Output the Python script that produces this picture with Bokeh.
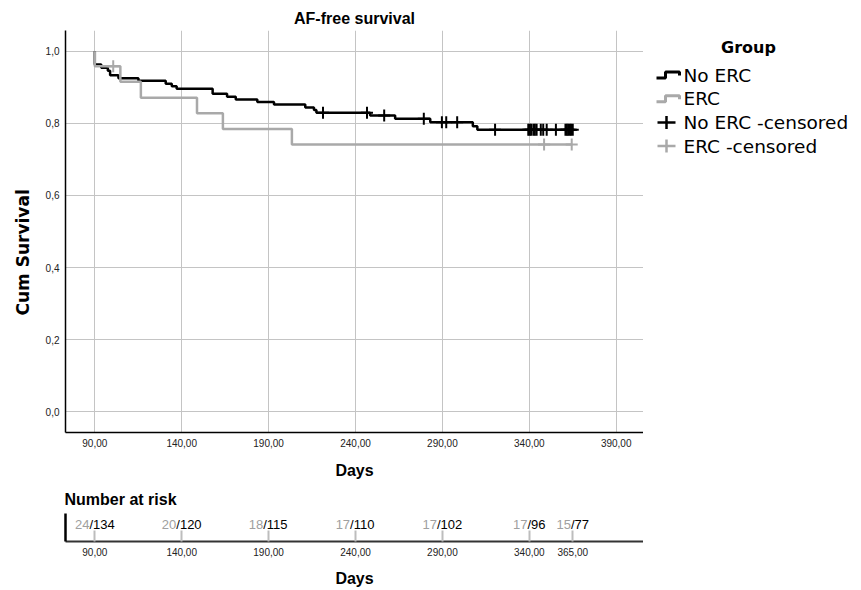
import numpy as np
from bokeh.plotting import figure
from bokeh.models import Range1d, FixedTicker, ColumnDataSource, Title
from bokeh.layouts import column, row
from bokeh.embed import file_html
from bokeh.resources import INLINE
from bokeh.core.properties import value

# ---------------- data ----------------
no_erc_days = [90, 90, 93.7, 97.5, 98.8, 103.6, 115.1, 130.8, 134.3, 137.1, 157.8, 166.1,
               171.1, 183.5, 193.1, 211.1, 216.1, 217.5, 248.4, 262.8, 283.0, 307.5, 310.1, 365.2]
no_erc_surv = [1.0, 0.963, 0.954, 0.946, 0.933, 0.925, 0.918, 0.910, 0.903, 0.896, 0.882, 0.874,
               0.866, 0.859, 0.852, 0.844, 0.837, 0.829, 0.822, 0.813, 0.803, 0.792, 0.782, 0.782]
erc_days = [90, 90, 104.7, 116.5, 148.8, 163.7, 203.4, 364.4]
erc_surv = [1.0, 0.958, 0.915, 0.871, 0.828, 0.784, 0.741, 0.741]

no_erc_censored = [221.3, 246.6, 256.5, 279.3, 289.7, 292.2, 298.5, 320.3,
                   339.4, 340.2, 341.0, 342.3, 343.2, 344.2, 346.6, 348.0, 350.0,
                   355.3, 360.8, 361.6, 362.4, 363.2, 364.0, 365.0]
erc_censored = [100.6, 348.5, 364.4]

x_ticks = [90, 140, 190, 240, 290, 340, 390]
y_ticks = [0.0, 0.2, 0.4, 0.6, 0.8, 1.0]

risk_days = [90, 140, 190, 240, 290, 340, 365]
risk_erc = [24, 20, 18, 17, 17, 17, 15]
risk_no_erc = [134, 120, 115, 110, 102, 96, 77]

group_title = "Group"
group_labels = ["No ERC", "ERC", "No ERC -censored", "ERC -censored"]

# ---------------- helpers ----------------
def surv_at(days, surv, t):
    idx = np.searchsorted(np.asarray(days), t, side="right") - 1
    return [surv[i] for i in idx]

def fmt_x(v):
    return f"{v:.2f}".replace(".", ",")

def fmt_y(v):
    return f"{v:.1f}".replace(".", ",")

BLACK = "#000000"
GRAY = "#a9a9a9"
GRID = "#c4c4c4"

MAIN_W = 643
LEG_W = 215
MAIN_H = 482
RISK_H = 108
FRAME_TOP, FRAME_BOTTOM = 30, 432

x_range = Range1d(73.14, 405.7)

# ---------------- main chart ----------------
p = figure(width=MAIN_W, height=MAIN_H, x_range=x_range, y_range=Range1d(-0.0574, 1.0574),
           output_backend="svg", toolbar_location=None,
           min_border_left=65, min_border_right=0, min_border_top=FRAME_TOP,
           min_border_bottom=MAIN_H - FRAME_BOTTOM)
p.outline_line_color = None
p.title.text = "AF-free survival"
p.title.align = "center"
p.title.text_font = "Liberation Sans"
p.title.text_font_style = "bold"
p.title.text_font_size = "16px"
p.title.text_color = BLACK
p.title.standoff = 7

p.xaxis.ticker = FixedTicker(ticks=x_ticks)
p.xaxis.major_label_overrides = {t: fmt_x(t) for t in x_ticks}
p.yaxis.ticker = FixedTicker(ticks=y_ticks)
p.yaxis.major_label_overrides = {t: fmt_y(t) for t in y_ticks}
p.xgrid.ticker = FixedTicker(ticks=x_ticks)
p.ygrid.ticker = FixedTicker(ticks=y_ticks)
p.grid.grid_line_color = GRID
p.grid.grid_line_width = 1

for ax in (p.xaxis, p.yaxis):
    ax.major_tick_in = 0
    ax.major_tick_out = 0
    ax.minor_tick_in = 0
    ax.minor_tick_out = 0
    ax.axis_line_color = BLACK
    ax.axis_line_width = 1.5
    ax.major_label_text_font = "Liberation Sans"
    ax.major_label_text_font_size = "10px"
    ax.major_label_text_color = "#222222"
    ax.major_label_standoff = 6
    ax.axis_label_text_color = BLACK

p.xaxis.axis_label = "Days"
p.xaxis.axis_label_text_font = "Liberation Sans"
p.xaxis.axis_label_text_font_style = "bold"
p.xaxis.axis_label_text_font_size = "16px"
p.xaxis.axis_label_standoff = 12

# y-axis title as a left-side Title so it can sit below the centre, as in the reference
ytitle = Title(text="Cum Survival", align="left", offset=117, standoff=19,
               text_font="DejaVu Sans", text_font_style="bold", text_font_size="17px",
               text_color=BLACK)
p.add_layout(ytitle, "left")

p.step(no_erc_days, no_erc_surv, mode="after", line_color=BLACK, line_width=2.5)
p.step(erc_days, erc_surv, mode="after", line_color=GRAY, line_width=2.5)
p.scatter(no_erc_censored, surv_at(no_erc_days, no_erc_surv, no_erc_censored),
          marker="cross", size=12, line_color=BLACK, line_width=2)
p.scatter(erc_censored, surv_at(erc_days, erc_surv, erc_censored),
          marker="cross", size=12, line_color=GRAY, line_width=2)

# ---------------- legend panel (page-pixel coordinates, y downward) ----------------
lg = figure(width=LEG_W, height=MAIN_H, x_range=Range1d(MAIN_W, MAIN_W + LEG_W),
            y_range=Range1d(FRAME_BOTTOM, FRAME_TOP),
            output_backend="svg", toolbar_location=None, min_border=0,
            min_border_top=FRAME_TOP, min_border_bottom=MAIN_H - FRAME_BOTTOM,
            x_axis_location=None, y_axis_location=None)
lg.outline_line_color = None
lg.grid.visible = False

ROW0 = 74.5      # centre of first legend row (page px)
PITCH = 23.7     # row pitch (px)
KEY_X = MAIN_W + 13
TEXT_X = MAIN_W + 40
row_y = [ROW0 + PITCH * i for i in range(len(group_labels))]
legend_colors = [BLACK, GRAY, BLACK, GRAY]

lg.text(x=[MAIN_W + 105], y=[46.5], text=[group_title], text_align="center", text_baseline="middle",
        text_font=value("DejaVu Sans"), text_font_style="bold", text_font_size=value("16px"),
        text_color=BLACK)
lg.text(x=[TEXT_X] * len(group_labels), y=row_y, text=group_labels, text_align="left",
        text_baseline="middle", text_font=value("DejaVu Sans"), text_font_size=value("18.5px"),
        text_color=BLACK)

# step-shaped keys for the survival curves
for i in (0, 1):
    cy = row_y[i]
    lg.line(x=[KEY_X, KEY_X + 9, KEY_X + 9, KEY_X + 23, KEY_X + 23],
            y=[cy + 3, cy + 3, cy - 3, cy - 3, cy + 0.5],
            line_color=legend_colors[i], line_width=3)
# cross keys for censored cases
for i in (2, 3):
    cy = row_y[i]
    lg.segment(x0=[KEY_X + 1, KEY_X + 10], y0=[cy, cy - 6.5], x1=[KEY_X + 19, KEY_X + 10], y1=[cy, cy + 6.5],
               line_color=legend_colors[i], line_width=2.5)

# ---------------- number at risk panel ----------------
r = figure(width=MAIN_W, height=RISK_H, x_range=x_range, y_range=Range1d(0, 1),
           output_backend="svg", toolbar_location=None,
           min_border_left=65, min_border_right=0, min_border_top=31, min_border_bottom=49)
r.outline_line_color = None
r.grid.visible = False
r.title.text = "Number at risk"
r.title.align = "left"
r.title.text_font = "Liberation Sans"
r.title.text_font_style = "bold"
r.title.text_font_size = "16px"
r.title.text_color = BLACK
r.title.standoff = 12
r.title.offset = -1

r.xaxis.ticker = FixedTicker(ticks=risk_days)
r.xaxis.major_label_overrides = {t: fmt_x(t) for t in risk_days}
r.xaxis.major_tick_in = 11
r.xaxis.major_tick_out = 0
r.xaxis.minor_tick_in = 0
r.xaxis.minor_tick_out = 0
r.xaxis.major_tick_line_color = "#bdbdbd"
r.xaxis.major_tick_line_width = 2
r.xaxis.axis_line_color = "#333333"
r.xaxis.axis_line_width = 2
r.xaxis.major_label_text_font = "Liberation Sans"
r.xaxis.major_label_text_font_size = "10px"
r.xaxis.major_label_text_color = "#222222"
r.xaxis.major_label_standoff = 6
r.xaxis.axis_label = "Days"
r.xaxis.axis_label_text_font = "Liberation Sans"
r.xaxis.axis_label_text_font_style = "bold"
r.xaxis.axis_label_text_font_size = "16px"
r.xaxis.axis_label_text_color = BLACK
r.xaxis.axis_label_standoff = 11

r.yaxis.ticker = FixedTicker(ticks=[])
r.yaxis.major_tick_in = 0
r.yaxis.major_tick_out = 0
r.yaxis.minor_tick_in = 0
r.yaxis.minor_tick_out = 0
r.yaxis.axis_line_color = BLACK
r.yaxis.axis_line_width = 2.5

# approximate Arial advance widths (em) to centre the two-coloured label on its tick
def text_w(s, size=13):
    return sum((0.278 if ch == "/" else 0.556) for ch in s) * size

gray_txt = [str(v) for v in risk_erc]
black_txt = ["/" + str(v) for v in risk_no_erc]
offs = [(text_w(g) - text_w(b)) / 2 for g, b in zip(gray_txt, black_txt)]
src = ColumnDataSource(dict(x=risk_days, y=[0.6] * len(risk_days), g=gray_txt, b=black_txt, off=offs))

r.text(x="x", y="y", text="g", x_offset="off", source=src, text_align="right",
       text_baseline="alphabetic", text_color="#a0a0a0",
       text_font=value("Liberation Sans"), text_font_size=value("13px"))
r.text(x="x", y="y", text="b", x_offset="off", source=src, text_align="left",
       text_baseline="alphabetic", text_color=BLACK,
       text_font=value("Liberation Sans"), text_font_size=value("13px"))

layout = column(row(p, lg), r)
open("out.html", "w").write(file_html(layout, INLINE))
